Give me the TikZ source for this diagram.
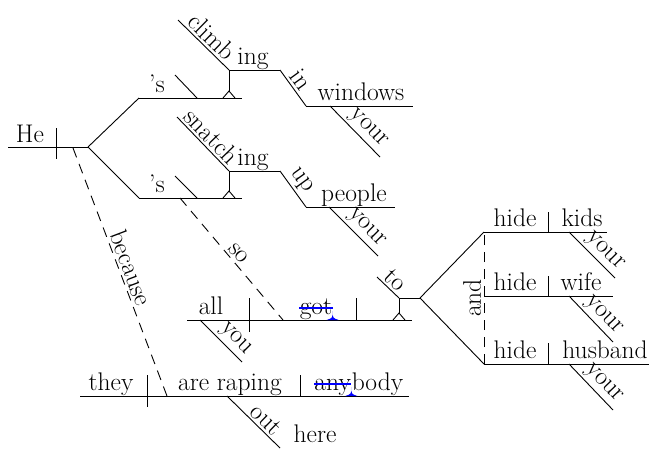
\documentclass[tikz,border=0pt]{standalone}
\begin{document}
\begin{tikzpicture}
  [x=1pt,y=-1pt,line width=.9pt,every node/.style={inner sep=0pt,font=\fontsize{25.5}{30}\selectfont}]
  \tikzstyle{word} = [anchor=base]
  \tikzstyle{slant} = [sloped,above=2.5pt]
  \tikzstyle{link} = [dash pattern=on 10pt off 7pt]
  \tikzstyle{strike} = [blue,line width=1.2pt]
  \useasboundingbox (0,0) rectangle (649,448);
  % subject and fork
  \coordinate (heL) at (8,147);    \coordinate (fork) at (88,147);
  \coordinate (heD1) at (56,128);  \coordinate (heD2) at (56,159);
  \coordinate (brA) at (139,98);   \coordinate (brAe) at (242,98);
  \coordinate (brB) at (139,198);  \coordinate (brBe) at (242,198);
  \coordinate (sA1) at (175,75);   \coordinate (sA2) at (197,98);
  \coordinate (sB1) at (175,176);  \coordinate (sB2) at (197,198);
  % climbing in your windows
  \coordinate (pA) at (229,91);    \coordinate (pAt) at (229,70);
  \coordinate (ingA) at (280,70);  \coordinate (climbA) at (178,20);
  \coordinate (winL) at (306,106); \coordinate (winR) at (413,106);
  \coordinate (yA1) at (330,106);  \coordinate (yA2) at (380,157);
  % snatching up your people
  \coordinate (pB) at (229,191);   \coordinate (pBt) at (229,171);
  \coordinate (ingB) at (280,171); \coordinate (snatchB) at (177,117);
  \coordinate (peoL) at (306,207); \coordinate (peoR) at (395,207);
  \coordinate (yB1) at (329,207);  \coordinate (yB2) at (378,256);
  % so all you got
  \coordinate (soA) at (180,198);  \coordinate (soB) at (283,320);
  \coordinate (allL) at (187,320); \coordinate (allR) at (412,320);
  \coordinate (allD1) at (249,298); \coordinate (allD2) at (249,332);
  \coordinate (gotD1) at (356,298); \coordinate (gotD2) at (356,320);
  \coordinate (youA) at (200,320); \coordinate (youB) at (242,362);
  \coordinate (pC) at (399,313);   \coordinate (pCt) at (399,298);
  \coordinate (toS) at (377,277);  \coordinate (fork2) at (420,298);
  % hide kids, wife, husband
  \coordinate (kidsL) at (484,232); \coordinate (kidsR) at (607,232);
  \coordinate (kidsD1) at (548,212); \coordinate (kidsD2) at (548,232);
  \coordinate (wifeL) at (484,296); \coordinate (wifeR) at (613,296);
  \coordinate (wifeD1) at (548,276); \coordinate (wifeD2) at (548,296);
  \coordinate (husL) at (484,364); \coordinate (husR) at (649,364);
  \coordinate (husD1) at (548,343); \coordinate (husD2) at (548,364);
  \coordinate (yK1) at (569,232);  \coordinate (yK2) at (615,278);
  \coordinate (yW1) at (569,296);  \coordinate (yW2) at (613,342);
  \coordinate (yH1) at (569,364);  \coordinate (yH2) at (613,410);
  % because they are raping
  \coordinate (becA) at (73,148);  \coordinate (becB) at (167,396);
  \coordinate (theyL) at (80,396); \coordinate (theyR) at (409,396);
  \coordinate (theyD1) at (147,375); \coordinate (theyD2) at (147,407);
  \coordinate (areD1) at (300,375); \coordinate (areD2) at (300,396);
  \coordinate (outA) at (227,396); \coordinate (outB) at (280,448);

  \foreach \source/\dest in {heL/fork,heD1/heD2,fork/brA,brA/brAe,fork/brB,brB/brBe,
      sA1/sA2,sB1/sB2,pA/pAt,pAt/ingA,pB/pBt,pBt/ingB,winL/winR,peoL/peoR,
      allL/allR,allD1/allD2,gotD1/gotD2,pC/pCt,pCt/fork2,fork2/kidsL,fork2/husL,
      kidsL/kidsR,kidsD1/kidsD2,wifeL/wifeR,wifeD1/wifeD2,husL/husR,husD1/husD2,
      theyL/theyR,theyD1/theyD2,areD1/areD2}
   \draw (\source) -- (\dest);
  \foreach \source/\dest/\word/\p in {climbA/pAt/climb/.5,ingA/winL/in/.45,yA1/yA2/your/.6,
      snatchB/pBt/snatch/.5,ingB/peoL/up/.45,yB1/yB2/your/.6,toS/pCt/to/.5,youA/youB/you/.65,
      yK1/yK2/your/.6,yW1/yW2/your/.6,yH1/yH2/your/.6,outA/outB/out/.6}
   \draw (\source) -- node[slant,pos=\p] (t\source) {\word} (\dest);
  \foreach \source/\dest/\word in {soA/soB/so,becA/becB/because,husL/kidsL/and}
   \draw[link] (\source) -- node[slant] (t\source) {\word} (\dest);
  % pedestal feet
  \foreach \p in {pA,pB,pC}
   \draw (\p) ++(-6,7) -- (\p) -- ++(6,7);

  \node[word] (he) at (30,142) {He};
  \node[word] (possA) at (157,92) {'s};
  \node[word] (ingTA) at (253,64) {ing};
  \node[word] (windows) at (361,100) {windows};
  \node[word] (possB) at (157,192) {'s};
  \node[word] (ingTB) at (253,165) {ing};
  \node[word] (people) at (354,201) {people};
  \node[word] (all) at (211,314) {all};
  \node[word] (got) at (316,314) {got};
  \node[word] (hideK) at (515,226) {hide};
  \node[word] (kids) at (582,226) {kids};
  \node[word] (hideW) at (515,290) {hide};
  \node[word] (wife) at (581,290) {wife};
  \node[word] (hideH) at (515,358) {hide};
  \node[word] (husband) at (605,358) {husband};
  \node[word] (they) at (111,390) {they};
  \node[word] (raping) at (230,390) {are raping};
  \node[word,anchor=base west] (any) at (314,390) {any};
  \node[word,anchor=base west] (body) at (any.base east) {body};
  \node[word] (here) at (315,442) {here};

  % struck letters with blue carets
  \foreach \w in {got,any} {
   \draw[strike] ([yshift=6pt]\w.base west) -- ([yshift=6pt]\w.base east);
   \fill[blue] ([yshift=3pt]\w.base east) .. controls ([yshift=-4pt]\w.base east) .. ([xshift=6pt,yshift=-6pt]\w.base east)
     -- ([xshift=-6pt,yshift=-6pt]\w.base east) .. controls ([yshift=-4pt]\w.base east) .. ([yshift=3pt]\w.base east);
  }
\end{tikzpicture}
\end{document}
